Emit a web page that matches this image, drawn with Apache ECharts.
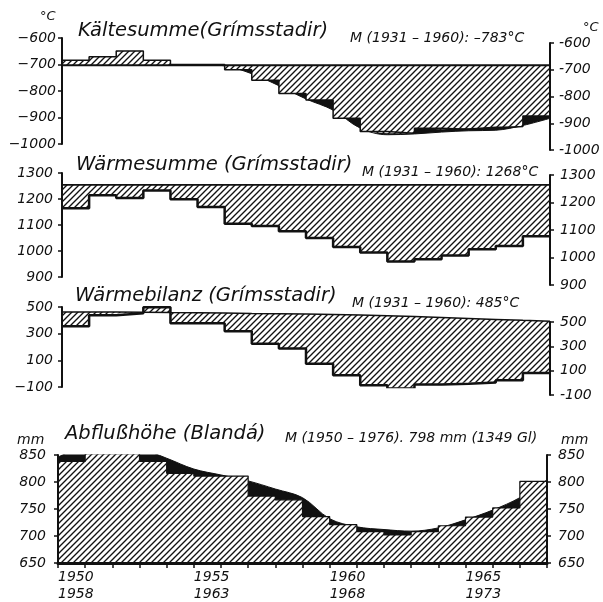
<!DOCTYPE html>
<html>
<head>
<meta charset="utf-8">
<script src="https://cdn.jsdelivr.net/npm/echarts@6/dist/echarts.min.js"></script>
<style>
  html, body { margin: 0; padding: 0; background: #fff; }
  #chart { width: 603px; height: 602px; }
</style>
</head>
<body>
<div id="chart"></div>
<script>
// each value covers one year [year, year + 1)
const years = [1950, 1951, 1952, 1953, 1954, 1955, 1956, 1957, 1958, 1959,
  1960, 1961, 1962, 1963, 1964, 1965, 1966, 1967]
const yearEnd = 1968
const xTicks = [1950, 1955, 1960, 1965]
const xTickLabels = ['1950\n1958', '1955\n1963', '1960\n1968', '1965\n1973']

// Kältesumme (°C)
const kaelte = [-684, -671, -649, -684, -700, -700, -720, -759, -809, -834,
  -903, -953, -959, -941, -944, -941, -934, -894]
const kaelteMean = -703
// smoothed curve, at year boundaries 1950..1968
const kaelteCurve = [-700, -700, -700, -700, -700, -700, -705, -735, -780, -830,
  -872, -940, -965, -962, -955, -950, -948, -930, -903]
const kaelteTicks = [-1000, -900, -800, -700, -600]

// Wärmesumme (°C)
const waerme = [1164, 1214, 1204, 1233, 1199, 1169, 1105, 1096, 1076, 1050,
  1015, 994, 960, 968, 983, 1007, 1019, 1057]
const waermeMean = 1254
const waermeTicks = [900, 1000, 1100, 1200, 1300]

// Wärmebilanz (°C)
const bilanz = [355, 438, 453, 498, 378, 378, 318, 225, 188, 75,
  -12, -87, -112, -82, -75, -67, -50, 5]
const bilanzMean = [462, 462, 460, 458, 457, 455, 452, 450, 447, 444,
  440, 434, 428, 421, 414, 407, 400, 394]
const bilanzTicks = [-100, 100, 300, 500]

// Abflußhöhe (mm)
const abfluss = [838, 859, 859, 838, 816, 811, 811, 774, 767, 736,
  721, 708, 702, 708, 719, 735, 752, 801]
const abflussCurve = [846, 865, 867, 862, 844, 824, 813, 802, 787, 771,
  732, 717, 712, 709, 715, 730, 748, 771, 804]
const abflussTicks = [650, 700, 750, 800, 850]

const ink = '#111'
const font = { fontFamily: 'DejaVu Sans', fontStyle: 'italic', fontSize: 14, color: ink }
const yearEdges = years.concat([yearEnd]).map(String)

function hatchPattern() {
  const c = document.createElement('canvas')
  c.width = 6
  c.height = 6
  const g = c.getContext('2d')
  g.fillStyle = '#fff'
  g.fillRect(0, 0, 6, 6)
  g.strokeStyle = ink
  g.lineWidth = 1.35
  g.beginPath()
  g.moveTo(-1, 7); g.lineTo(7, -1)
  g.moveTo(-1, 1); g.lineTo(1, -1)
  g.moveTo(5, 7); g.lineTo(7, 5)
  g.stroke()
  return c
}
const hatch = { image: hatchPattern(), repeat: 'repeat' }

// yearly values -> points on the year edges (last value held to 1968)
function steps(vals) {
  return vals.concat([vals[vals.length - 1]])
}
// left labels use a long minus, right ones a short dash
const longMinus = v => String(v).replace('-', '\u2212')
const shortMinus = v => String(v)

const grids = [
  { left: 62, top: 38, width: 488, height: 106 },
  { left: 62, top: 43, width: 488, height: 107 },
  { left: 62, top: 173, width: 488, height: 104 },
  { left: 62, top: 175, width: 488, height: 110 },
  { left: 62, top: 307, width: 488, height: 80 },
  { left: 62, top: 322, width: 488, height: 73 },
  { left: 58, top: 455, width: 489, height: 108 }
].map(g => Object.assign({ outerBoundsMode: 'none', containLabel: false }, g))

const xAxes = grids.map((g, i) => {
  if (i < 6) {
    return { type: 'category', gridIndex: i, data: yearEdges, boundaryGap: false, show: false }
  }
  return {
    type: 'category', gridIndex: i, data: yearEdges, boundaryGap: false, z: 10,
    axisLine: { onZero: false, lineStyle: { color: ink, width: 3 } },
    axisTick: { interval: 0, length: 5, lineStyle: { color: ink, width: 1.5 } },
    axisLabel: Object.assign({
      interval: (idx, val) => xTicks.indexOf(+val) >= 0,
      formatter: val => xTickLabels[xTicks.indexOf(+val)],
      align: 'left', lineHeight: 17, margin: 6
    }, font),
    splitLine: { show: false }
  }
})

function yAx(grid, pos, min, max, ticks, margin) {
  return {
    type: 'value', gridIndex: grid, position: pos, min: min, max: max, z: 10,
    splitLine: { show: false },
    axisLine: { show: true, onZero: false, lineStyle: { color: ink, width: 2 } },
    axisTick: { show: true, customValues: ticks, length: 4, lineStyle: { color: ink, width: 1.5 } },
    axisLabel: Object.assign({
      customValues: ticks, margin: margin,
      formatter: pos === 'left' ? longMinus : shortMinus
    }, font)
  }
}

const yAxes = [
  yAx(0, 'left', -1000, -600, kaelteTicks, 6),
  yAx(1, 'right', -1000, -600, kaelteTicks, 9),
  yAx(2, 'left', 900, 1300, waermeTicks, 9),
  yAx(3, 'right', 900, 1300, waermeTicks, 10),
  yAx(4, 'left', -100, 500, bilanzTicks, 9),
  yAx(5, 'right', -100, 500, bilanzTicks, 10),
  yAx(6, 'left', 650, 850, abflussTicks, 12),
  yAx(6, 'right', 650, 850, abflussTicks, 11)
]

const common = { type: 'line', symbol: 'none', silent: true, emphasis: { disabled: true } }
function line(opts) { return Object.assign({}, common, opts) }

const series = [
  // Kältesumme
  line({ xAxisIndex: 0, yAxisIndex: 0, data: kaelteCurve, smooth: 0.35, z: 1,
    lineStyle: { color: ink, width: 1 }, areaStyle: { color: ink, opacity: 1, origin: 'end' } }),
  line({ xAxisIndex: 0, yAxisIndex: 0, data: steps(years.map(() => kaelteMean)), z: 1,
    lineStyle: { opacity: 0 }, areaStyle: { color: '#fff', opacity: 1, origin: 'end' } }),
  line({ xAxisIndex: 0, yAxisIndex: 0, data: steps(kaelte), step: 'end', stack: 'k', stackStrategy: 'all', z: 4,
    lineStyle: { color: ink, width: 1.5 } }),
  line({ xAxisIndex: 0, yAxisIndex: 0, data: steps(kaelte.map(v => kaelteMean - v)), step: 'end', stack: 'k', stackStrategy: 'all', z: 3,
    lineStyle: { color: ink, width: 2 }, areaStyle: { color: hatch, opacity: 1 } }),
  // Wärmesumme
  line({ xAxisIndex: 2, yAxisIndex: 2, data: steps(waerme), step: 'end', stack: 'w', stackStrategy: 'all', z: 4,
    lineStyle: { color: ink, width: 2.5 } }),
  line({ xAxisIndex: 2, yAxisIndex: 2, data: steps(waerme.map(v => waermeMean - v)), step: 'end', stack: 'w', stackStrategy: 'all', z: 3,
    lineStyle: { color: ink, width: 1.8 }, areaStyle: { color: hatch, opacity: 1 } }),
  // Wärmebilanz
  line({ xAxisIndex: 4, yAxisIndex: 4, data: steps(bilanz), step: 'end', stack: 'b', stackStrategy: 'all', z: 4,
    lineStyle: { color: ink, width: 2.5 } }),
  line({ xAxisIndex: 4, yAxisIndex: 4, data: steps(bilanz.map((v, i) => bilanzMean[i] - v)), step: 'end', stack: 'b', stackStrategy: 'all', z: 3,
    lineStyle: { color: ink, width: 1.5 }, areaStyle: { color: hatch, opacity: 1 } }),
  // Abflußhöhe
  line({ xAxisIndex: 6, yAxisIndex: 6, data: abflussCurve, smooth: 0.35, z: 1,
    lineStyle: { color: ink, width: 1 }, areaStyle: { color: ink, opacity: 1, origin: 'start' } }),
  line({ xAxisIndex: 6, yAxisIndex: 6, data: steps(abfluss), step: 'end', z: 3,
    lineStyle: { color: ink, width: 1.2 }, areaStyle: { color: hatch, opacity: 1, origin: 'start' } })
]

function label(text, x, y, size) {
  return {
    type: 'text', z: 100, silent: true,
    style: { text: text, x: x, y: y, fill: ink, fontSize: size, fontFamily: 'DejaVu Sans', fontStyle: 'italic', verticalAlign: 'middle' }
  }
}

const chart = echarts.init(document.getElementById('chart'))
chart.setOption({
  animation: false,
  backgroundColor: '#fff',
  grid: grids,
  xAxis: xAxes,
  yAxis: yAxes,
  series: series,
  graphic: [
    label('Kältesumme(Grímsstadir)', 78, 31, 19.5),
    label('M (1931 – 1960): –783°C', 350, 38, 14),
    label('°C', 40, 17, 13),
    label('°C', 583, 28, 13),
    label('Wärmesumme (Grímsstadir)', 76, 165, 19.5),
    label('M (1931 – 1960): 1268°C', 362, 172, 14),
    label('Wärmebilanz (Grímsstadir)', 75, 296, 19.5),
    label('M (1931 – 1960): 485°C', 352, 303, 14),
    label('Abflußhöhe (Blandá)', 65, 434, 19.5),
    label('M (1950 – 1976). 798 mm (1349 Gl)', 285, 438, 14),
    label('mm', 17, 440, 14),
    label('mm', 561, 440, 14)
  ]
})
</script>
</body>
</html>
